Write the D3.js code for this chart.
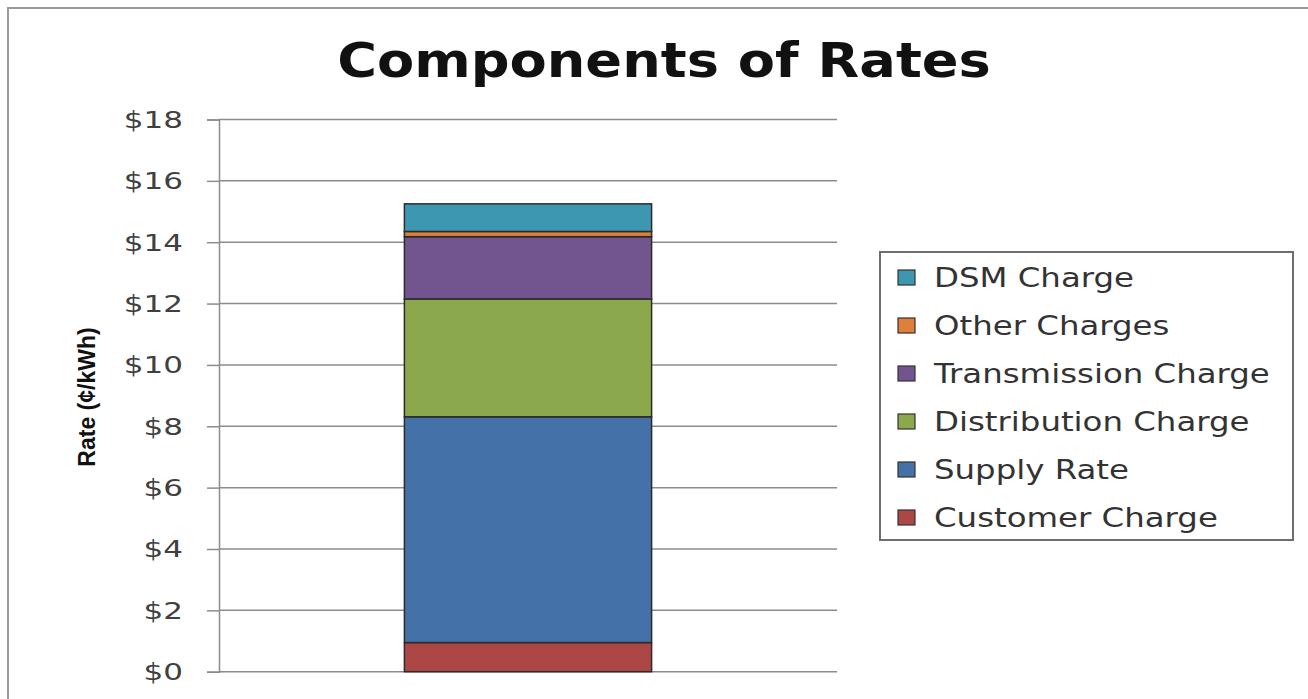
<!DOCTYPE html>
<html><head><meta charset="utf-8">
<script src="https://cdn.jsdelivr.net/npm/d3@7"></script>
<style>html,body{margin:0;padding:0;background:#fff;}svg{display:block;}</style>
</head><body>
<script>
const categories = ["Rates"];
const seriesNames = ["Customer Charge","Supply Rate","Distribution Charge","Transmission Charge","Other Charges","DSM Charge"];
const customerCharge = [0.95];
const supplyRate = [7.36];
const distributionCharge = [3.84];
const transmissionCharge = [2.03];
const otherCharges = [0.17];
const dsmCharge = [0.90];
const tickValues = [0,2,4,6,8,10,12,14,16,18];
const tickLabels = ["$0","$2","$4","$6","$8","$10","$12","$14","$16","$18"];
const colors = ["#AD4745","#4471A8","#8CA84C","#72558F","#DE7F3B","#3E97B0"];

const W = 1308, H = 699;
const svg = d3.select("body").append("svg").attr("width", W).attr("height", H);

// frame
svg.append("rect").attr("x",8).attr("y",8).attr("width",1306).attr("height",720)
  .attr("fill","#fff").attr("stroke","#9a9a9a").attr("stroke-width",2);

const pLeft = 219, pRight = 837, pTop = 119.5, pBottom = 671.7;
const y = d3.scaleLinear().domain([0,18]).range([pBottom, pTop]);
const x = d3.scaleBand().domain(categories).range([pLeft, pRight]).paddingInner(0).paddingOuter(0.75);

// title
svg.append("text").attr("transform","translate(664,77) scale(1.13,1)").attr("text-anchor","middle")
  .attr("font-family","'DejaVu Sans', sans-serif").attr("font-weight","bold")
  .attr("font-size", 48).attr("fill","#111").text("Components of Rates");

// gridlines
svg.append("g").selectAll("line").data(tickValues).join("line")
  .attr("x1", pLeft).attr("x2", pRight)
  .attr("y1", d => y(d)).attr("y2", d => y(d))
  .attr("stroke","#8c8c8c").attr("stroke-width",1.5);

// y axis
const axis = d3.axisLeft(y).tickValues(tickValues).tickSize(12).tickFormat((d,i) => tickLabels[i]);
const ag = svg.append("g").attr("transform", `translate(${pLeft},0)`).call(axis);
ag.select(".domain").attr("stroke","#8c8c8c").attr("stroke-width",1.5);
ag.selectAll(".tick line").attr("stroke","#8c8c8c").attr("stroke-width",1.5);
ag.selectAll(".tick text").attr("x",0).attr("dy",null).attr("dominant-baseline","central")
  .attr("transform","translate(-36,0) scale(1.35,1)")
  .attr("font-family","'DejaVu Sans', sans-serif").attr("font-size",23).attr("fill","#404040");

// y axis title
svg.append("text").attr("transform","translate(95,397) rotate(-90)")
  .attr("text-anchor","middle")
  .attr("font-family","'Liberation Sans Narrow','Arial Narrow','Liberation Sans',sans-serif")
  .attr("font-weight","bold").attr("font-size",23).attr("fill","#111")
  .text("Rate (¢/kWh)");

// stacked data
const rows = categories.map((c,i) => ({
  cat: c,
  "Customer Charge": customerCharge[i],
  "Supply Rate": supplyRate[i],
  "Distribution Charge": distributionCharge[i],
  "Transmission Charge": transmissionCharge[i],
  "Other Charges": otherCharges[i],
  "DSM Charge": dsmCharge[i]
}));
const stacked = d3.stack().keys(seriesNames)(rows);
const color = d3.scaleOrdinal().domain(seriesNames).range(colors);

svg.append("g").selectAll("g").data(stacked).join("g")
  .attr("fill", d => color(d.key))
  .selectAll("rect").data(d => d).join("rect")
  .attr("x", d => x(d.data.cat))
  .attr("width", x.bandwidth())
  .attr("y", d => y(d[1]))
  .attr("height", d => y(d[0]) - y(d[1]))
  .attr("stroke","#2b2b2b").attr("stroke-width",1.5);

// legend
const lg = svg.append("g");
lg.append("rect").attr("x",880).attr("y",252).attr("width",413).attr("height",288)
  .attr("fill","#fff").attr("stroke","#6e6e6e").attr("stroke-width",2);
const legendOrder = seriesNames.slice().reverse();
const ly = d3.scalePoint().domain(legendOrder).range([277, 517]);
const items = lg.selectAll("g.item").data(legendOrder).join("g").attr("class","item")
  .attr("transform", d => `translate(898,${ly(d)})`);
items.append("rect").attr("x",0).attr("y",-7).attr("width",17).attr("height",15)
  .attr("fill", d => color(d)).attr("stroke","#333").attr("stroke-width",1.2);
items.append("text").attr("transform","translate(36,0) scale(1.2,1)").attr("dominant-baseline","central")
  .attr("font-family","'DejaVu Sans', sans-serif").attr("font-size",27).attr("fill","#333")
  .text(d => d);
</script>
</body></html>
